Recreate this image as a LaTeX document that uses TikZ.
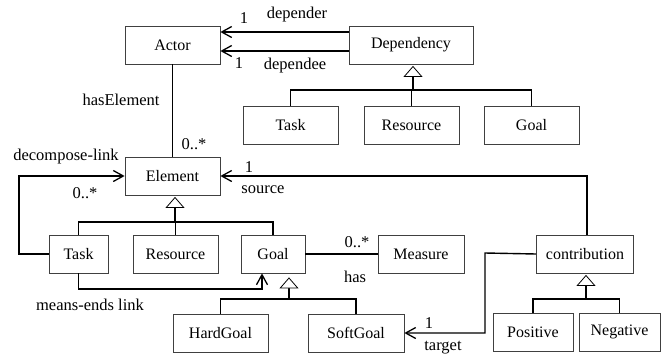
\documentclass[tikz,border=0pt]{standalone}
\usepackage{fontspec}
\setmainfont{Liberation Serif}
\newfontfamily\tmsfont{Liberation Serif}
\usetikzlibrary{arrows.meta}
\begin{document}
\begin{tikzpicture}[x=1pt,y=-1pt,
  box/.style={draw=black!75,line width=0.8pt,minimum height=38pt,inner sep=0pt,font=\tmsfont\fontsize{16}{18}\selectfont},
  conn/.style={line width=1.4pt,black},
  arr/.style={conn,-{Straight Barb[length=10pt,width=11pt,line width=1.3pt]}},
  gen/.style={conn,-{Triangle[open,length=11pt,width=19pt,line width=0.8pt,fill=white]},shorten >=1.5pt},
  lbl/.style={inner sep=0pt,font=\tmsfont\fontsize{16.5}{18}\selectfont}]
\useasboundingbox (0,0) rectangle (662,354);
% nodes
\node[box,minimum width=95pt] (actor) at (172.5,45) {Actor};
\node[box,minimum width=124pt] (dep) at (411,45) {Dependency};
\node[box,minimum width=95pt] (dtask) at (290.5,125) {Task};
\node[box,minimum width=95pt] (dres) at (411.5,125) {Resource};
\node[box,minimum width=95pt] (dgoal) at (531.5,125) {Goal};
\node[box,minimum width=95pt] (elem) at (172.5,176) {Element};
\node[box,minimum width=59pt] (task) at (78.5,254) {Task};
\node[box,minimum width=85pt] (res) at (175.5,254) {Resource};
\node[box,minimum width=64pt] (goal) at (273,254) {Goal};
\node[box,minimum width=86pt] (meas) at (421,254) {Measure};
\node[box,minimum width=97pt] (contr) at (585,254) {contribution};
\node[box,minimum width=95pt] (hard) at (220.5,333) {HardGoal};
\node[box,minimum width=96pt] (soft) at (356,333) {SoftGoal};
\node[box,minimum width=80pt] (pos) at (533,332) {Positive};
\node[box,minimum width=81pt] (neg) at (619.5,332) {Negative};
% coordinates
\coordinate (jdep) at (413,90);
\coordinate (jel) at (175,222);
\coordinate (jgoal) at (289,299);
\coordinate (jcon) at (586,299);
\coordinate (dl) at (19,254);
\coordinate (me) at (262,289);
\coordinate (tg) at (485,253);
% dependency associations
\draw[arr] ([yshift=13pt]dep.west) -- ([yshift=13pt]actor.east);
\draw[arr] ([yshift=-6pt]dep.west) -- ([yshift=-6pt]actor.east);
\node[lbl] (l1) at (244,18) {1};
\node[lbl] (l2) at (297,15) {depender};
\node[lbl] (l3) at (239,63) {1};
\node[lbl] (l4) at (295,66) {dependee};
% dependency generalization
\draw[gen] (jdep) -- (jdep |- dep.south);
\draw[conn] (dtask.north) |- (jdep) -| (dgoal.north);
\draw[conn] (dres.north) -- (dres.north |- jdep);
% hasElement
\draw[conn] (actor) -- (elem);
\node[lbl] (l5) at (121,100) {hasElement};
\node[lbl] (l6) at (194,144) {0..*};
% decompose-link
\draw[arr] (task.west) -- (dl) |- (elem.west);
\node[lbl] (l7) at (66,157) {decompose-link};
\node[lbl] (l8) at (85,193) {0..*};
% element generalization
\draw[gen] (jel) -- (jel |- elem.south);
\draw[conn] (task.north) |- (jel) -| (goal.north);
\draw[conn] (res.north) -- (res.north |- jel);
% source
\draw[arr] ([xshift=2pt]contr.north) |- (elem.east);
\node[lbl] (l9) at (249,167) {1};
\node[lbl] (l10) at (263,190) {source};
% has
\draw[conn] (goal) -- (meas);
\node[lbl] (l11) at (357,242) {0..*};
\node[lbl] (l12) at (355,277) {has};
% means-ends link
\draw[arr] (task.south) |- (me) -- (me |- goal.south);
\node[lbl] (l13) at (90,305) {means-ends link};
% goal generalization
\draw[gen,shorten >=4pt] (jgoal) -- (jgoal |- goal.south);
\draw[conn] (hard.north) |- (jgoal) -| (soft.north);
% target
\draw[arr] (contr.west) -- (tg) |- (soft.east);
\node[lbl] (l14) at (429,323) {1};
\node[lbl] (l15) at (443,348) {target};
% contribution generalization
\draw[gen] (jcon) -- (jcon |- contr.south);
\draw[conn] (pos.north) |- (jcon) -| (neg.north);
\end{tikzpicture}
\end{document}
